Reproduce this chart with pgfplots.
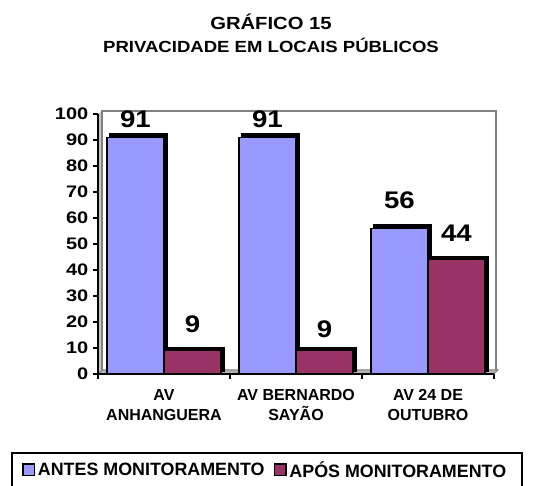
\documentclass[border=0pt]{standalone}
\usepackage{pgfplots}
\pgfplotsset{compat=1.18}
\usepackage{pgfplotstable}
\usepackage{fontspec}
\setmainfont{Liberation Sans}
\newfontfamily\widefont[FakeStretch=1.15]{Liberation Sans}
\newfontfamily\widerfont[FakeStretch=1.2]{Liberation Sans}
\definecolor{antes}{HTML}{9999FF}
\definecolor{apos}{HTML}{993366}

\pgfplotstableread{
x y dx dy
0.5 91 0 18
1.5 91 0 18
2.5 56 0 28
}\antestab
\pgfplotstableread{
x y dx dy
0.5 9 0 26
1.5 9 0 21
2.5 44 0 26
}\apostab

\begin{document}
\begin{tikzpicture}
\useasboundingbox (0,0) rectangle (399.75pt,364.5pt);
\clip (0,0) rectangle (399.75pt,364.5pt);
\begin{scope}[x=0.75pt,y=-0.75pt,yshift=364.5pt]
 \fill[gray!45] (98,374)--(98,114)--(102,111)--(102,370)--cycle;
 \draw[gray, line width=1pt] (102,370)--(102,111)--(496,111)--(496,370);
 \filldraw[fill=gray!60, draw=gray, line width=0.75pt] (98,374)--(494,374)--(498,370)--(102,370)--cycle;
 \node[font=\widefont\fontsize{13.2}{13}\selectfont\bfseries] at (271,22) {GRÁFICO 15};
 \node[font=\widefont\fontsize{12.1}{13}\selectfont\bfseries] at (271,45) {PRIVACIDADE EM LOCAIS PÚBLICOS};
\end{scope}
\begin{axis}[
 at={(73.5pt,84pt)}, anchor=south west,
 scale only axis, width=297pt, height=195pt,
 xmin=0, xmax=3, ymin=0, ymax=100,
 clip=false,
 axis lines*=left,
 axis line style={black, line width=1.2pt},
 xtick={0,1,2,3},
 xticklabels={AV\\ANHANGUERA, AV BERNARDO\\SAYÃO, AV 24 DE\\OUTUBRO},
 x tick label as interval,
 ytick={0,10,...,100},
 xtick pos=left, ytick pos=left,
 tick align=outside,
 major tick length=3.75pt,
 tick style={black, line width=1.2pt},
 /pgf/number format/assume math mode=true,
 yticklabel style={font=\widerfont\fontsize{12.5}{12}\selectfont\bfseries, xshift=0pt},
 xticklabel style={align=center, font=\fontsize{12}{15}\selectfont\bfseries, yshift=-4.5pt},
 ybar, bar width=42.75pt,
 legend style={at={(-0.202,-0.37)}, anchor=west, legend columns=2, draw=none, fill=none,
   font=\fontsize{13.4}{13}\selectfont\bfseries,
   /tikz/every even column/.append style={column sep=5pt}},
 legend image code/.code={\draw[#1, draw=black, line width=1.2pt] (0pt,-4pt) rectangle (8.5pt,4.5pt);},
 visualization depends on={\thisrow{dx}\as\mydx},
 visualization depends on={\thisrow{dy}\as\mydy},
 nodes near coords style={font=\widefont\fontsize{18}{18}\selectfont\bfseries, anchor=center,
   xshift=\mydx*0.75pt, yshift=\mydy*0.75pt},
]
\addplot[ybar, bar shift=-21.375pt, fill=black, draw=black, line width=1.2pt, forget plot,
  transform canvas={xshift=2.4pt,yshift=2.4pt}] table[x=x,y=y] {\antestab};
\addplot[ybar, bar shift=-21.375pt, fill=antes, draw=black, line width=1.2pt,
  nodes near coords] table[x=x,y=y] {\antestab};
\addlegendentry{ANTES MONITORAMENTO}
\addplot[ybar, bar shift=21.375pt, fill=black, draw=black, line width=1.2pt, forget plot,
  transform canvas={xshift=2.4pt,yshift=2.4pt}] table[x=x,y=y] {\apostab};
\addplot[ybar, bar shift=21.375pt, fill=apos, draw=black, line width=1.2pt,
  nodes near coords] table[x=x,y=y] {\apostab};
\addlegendentry{APÓS MONITORAMENTO}
\end{axis}
\begin{scope}[x=0.75pt,y=-0.75pt,yshift=364.5pt]
 \draw[line width=1.5pt] (12,453) rectangle (522,500);
\end{scope}
\end{tikzpicture}
\end{document}
